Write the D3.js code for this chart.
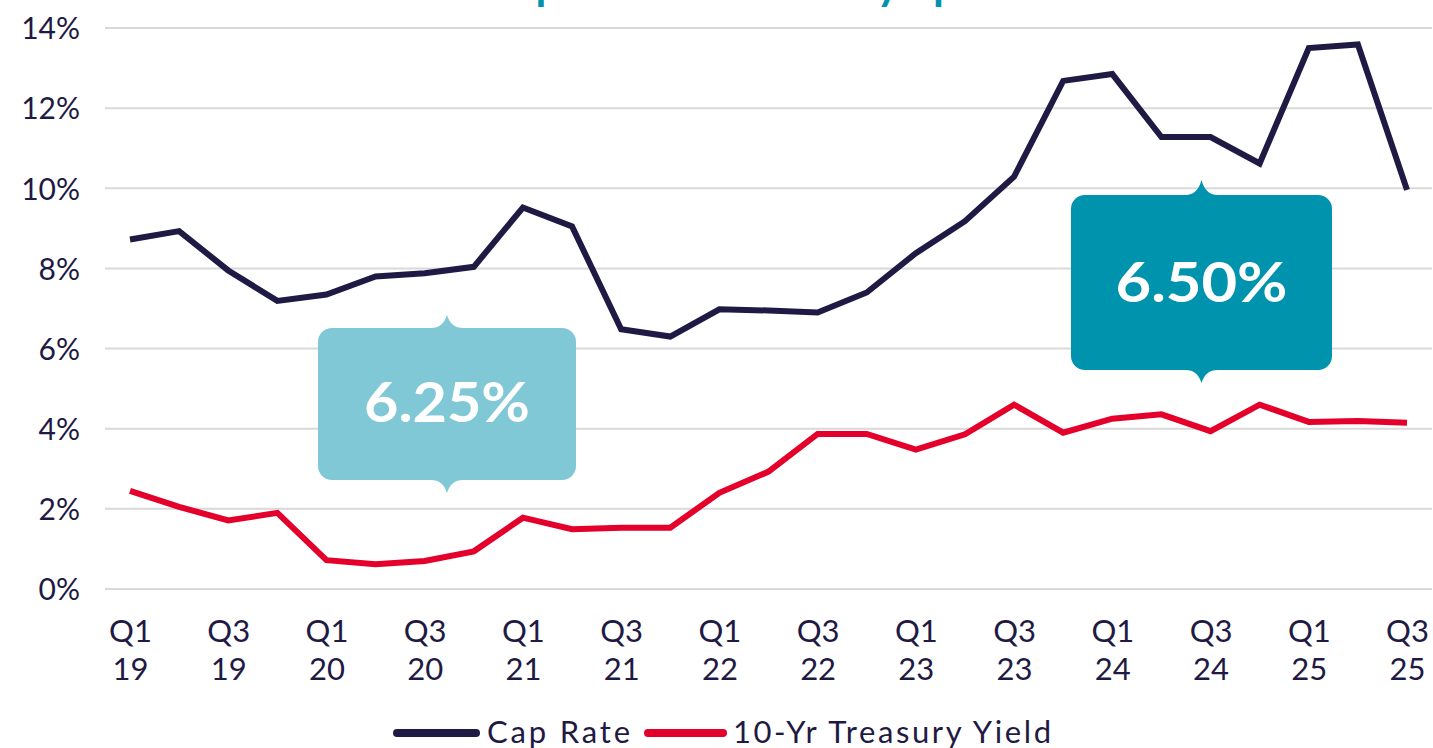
<!DOCTYPE html>
<html>
<head>
<meta charset="utf-8">
<script src="https://cdn.jsdelivr.net/npm/d3@7"></script>
<style>
  html, body { margin: 0; padding: 0; background: #ffffff; }
  svg { display: block; }
  text { font-family: Lato, "Open Sans", sans-serif; }
</style>
</head>
<body>
<svg id="chart" width="1433" height="748"></svg>
<script>
// ---- data ----
const quarters = ["Q1 19","Q2 19","Q3 19","Q4 19","Q1 20","Q2 20","Q3 20","Q4 20",
                  "Q1 21","Q2 21","Q3 21","Q4 21","Q1 22","Q2 22","Q3 22","Q4 22",
                  "Q1 23","Q2 23","Q3 23","Q4 23","Q1 24","Q2 24","Q3 24","Q4 24",
                  "Q1 25","Q2 25","Q3 25"];
const capRate = [8.72, 8.93, 7.95, 7.19, 7.35, 7.8, 7.88, 8.04,
                 9.52, 9.05, 6.48, 6.3, 6.98, 6.95, 6.9, 7.4,
                 8.38, 9.18, 10.29, 12.68, 12.85, 11.28, 11.28, 10.62,
                 13.5, 13.59, 9.96];
const treasury = [2.45, 2.05, 1.71, 1.9, 0.72, 0.62, 0.7, 0.94,
                  1.78, 1.49, 1.53, 1.53, 2.4, 2.93, 3.87, 3.87,
                  3.48, 3.86, 4.6, 3.9, 4.25, 4.36, 3.94, 4.6,
                  4.17, 4.19, 4.15];
const yTicks = [0, 2, 4, 6, 8, 10, 12, 14];
const xTickLabels = quarters.filter((d, i) => i % 2 === 0);
const seriesNames = ["Cap Rate", "10-Yr Treasury Yield"];
const callouts = [
  { label: "6.25%", from: 2, to: 6 },
  { label: "6.50%", from: 19, to: 24 }
];
const titleText = "Cap Rate vs. Treasury Spread";

// ---- setup ----
const navy = "#1f1a44", red = "#e4002b";
const svg = d3.select("#chart");
const x = d3.scalePoint().domain(quarters).range([130, 1407]);
const y = d3.scaleLinear().domain([0, 14]).range([589, 28]);

// title (mostly clipped at top)
svg.append("text")
  .attr("x", 484).attr("y", 0)
  .attr("fill", "#0093ae")
  .attr("font-size", 44).attr("font-weight", 700)
  .text(titleText);

// gridlines + y labels
const yAxis = d3.axisLeft(y).tickValues(yTicks).tickSize(0).tickPadding(0)
  .tickFormat(d => d + "%");
const gy = svg.append("g").attr("transform", "translate(80,0)").call(yAxis);
gy.select(".domain").remove();
gy.selectAll("text")
  .attr("fill", navy).attr("font-size", 30)
  .attr("font-family", "Lato, sans-serif")
  .attr("dy", "0.36em");

svg.append("g").selectAll("line").data(yTicks).join("line")
  .attr("x1", 105).attr("x2", 1432)
  .attr("y1", d => y(d)).attr("y2", d => y(d))
  .attr("stroke", "#d9d9d9").attr("stroke-width", 2);

// x labels (two lines)
const xAxis = d3.axisBottom(x).tickValues(xTickLabels).tickSize(0).tickFormat(() => "");
const gx = svg.append("g").attr("transform", "translate(0,589)").call(xAxis);
gx.select(".domain").remove();
gx.selectAll(".tick").each(function(d) {
  const parts = d.split(" ");
  const t = d3.select(this).select("text")
    .attr("fill", navy).attr("font-size", 31)
    .attr("font-family", "Lato, sans-serif")
    .attr("text-anchor", "middle").attr("y", 0).attr("dy", null);
  t.append("tspan").attr("x", 0).attr("y", 53).text(parts[0]);
  t.append("tspan").attr("x", 0).attr("y", 91).text(parts[1]);
});

// lines
const line = d3.line().x((d, i) => x(quarters[i])).y(d => y(d));
svg.append("path").datum(capRate).attr("d", line)
  .attr("fill", "none").attr("stroke", navy).attr("stroke-width", 6)
  .attr("stroke-linejoin", "miter");
svg.append("path").datum(treasury).attr("d", line)
  .attr("fill", "none").attr("stroke", red).attr("stroke-width", 6)
  .attr("stroke-linejoin", "miter");

// callouts
function calloutPath(l, r, t, b, rad, tx, tTop, tBot, w) {
  return [
    `M${l + rad},${t}`,
    `L${tx - w},${t}`,
    `Q${tx - w * 0.25},${t} ${tx},${tTop}`,
    `Q${tx + w * 0.25},${t} ${tx + w},${t}`,
    `L${r - rad},${t}`,
    `A${rad},${rad} 0 0 1 ${r},${t + rad}`,
    `L${r},${b - rad}`,
    `A${rad},${rad} 0 0 1 ${r - rad},${b}`,
    `L${tx + w},${b}`,
    `Q${tx + w * 0.25},${b} ${tx},${tBot}`,
    `Q${tx - w * 0.25},${b} ${tx - w},${b}`,
    `L${l + rad},${b}`,
    `A${rad},${rad} 0 0 1 ${l},${b - rad}`,
    `L${l},${t + rad}`,
    `A${rad},${rad} 0 0 1 ${l + rad},${t}`,
    "Z"
  ].join(" ");
}
const boxStyles = [
  { l: 318, r: 576, t: 328, b: 480, tTop: 315, tBot: 493, fill: "#80c8d5", base: 422, tw: 166, dy: 0 },
  { l: 1071, r: 1332, t: 195, b: 370, tTop: 180, tBot: 383, fill: "#0093ae", base: 302, tw: 172, dy: 0 }
];
callouts.forEach((c, k) => {
  const s = boxStyles[k];
  const cx = (s.l + s.r) / 2;
  svg.append("path")
    .attr("d", calloutPath(s.l, s.r, s.t, s.b, 14, cx, s.tTop, s.tBot, 16))
    .attr("fill", s.fill);
  svg.append("text")
    .attr("x", cx).attr("y", s.base)
    .attr("text-anchor", "middle")
    .attr("fill", "#ffffff").attr("font-size", 55).attr("font-weight", 700)
    .attr("textLength", s.tw).attr("lengthAdjust", "spacingAndGlyphs")
    .text(c.label);
});

// legend
const legend = [
  { name: seriesNames[0], color: navy, x1: 397, x2: 476, tx: 487, tw: 143 },
  { name: seriesNames[1], color: red, x1: 648, x2: 723, tx: 733, tw: 318 }
];
legend.forEach(d => {
  svg.append("line").attr("x1", d.x1).attr("x2", d.x2).attr("y1", 733).attr("y2", 733)
    .attr("stroke", d.color).attr("stroke-width", 8).attr("stroke-linecap", "round");
  svg.append("text").attr("x", d.tx).attr("y", 743)
    .attr("fill", navy).attr("font-size", 31)
    .attr("textLength", d.tw).attr("lengthAdjust", "spacing")
    .text(d.name);
});
</script>
</body>
</html>
